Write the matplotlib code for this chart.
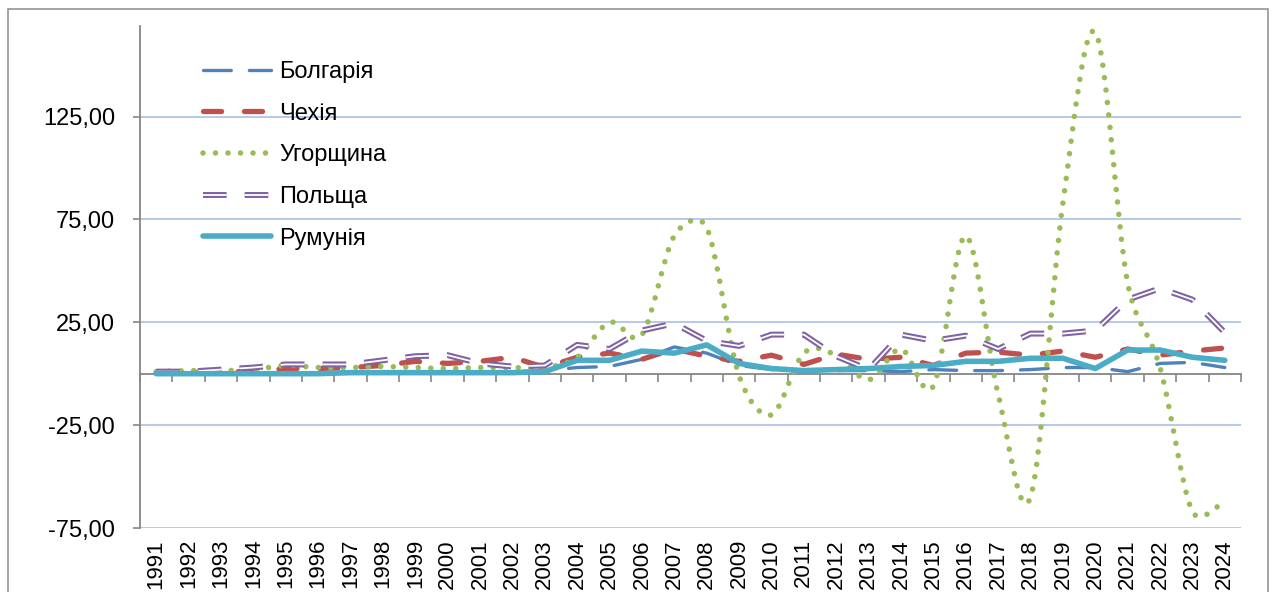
import numpy as np
import matplotlib.pyplot as plt
from matplotlib.path import Path
from matplotlib.patches import PathPatch, Rectangle
from matplotlib.lines import Line2D

plt.rcParams['font.family'] = ['Liberation Sans', 'DejaVu Sans']
plt.rcParams['lines.scale_dashes'] = False

years = [str(y) for y in range(1991, 2025)]

bulgaria = [0.5, 0.5, 0.5, 0.5, 0.5, 0.5, 1.0, 1.0, 1.0, 1.0, 1.0, 1.0, 1.5, 3.0,
            3.5, 7.0, 13.0, 10.0, 4.0, 2.0, 1.5, 1.5, 1.5, 1.0, 2.0, 1.5, 1.5, 2.0,
            3.0, 3.0, 1.0, 5.0, 5.5, 3.0]
czech = [0.5, 0.5, 1.0, 1.0, 2.5, 2.5, 3.0, 4.0, 6.0, 5.0, 6.0, 8.0, 3.0, 8.0,
         10.0, 7.0, 12.0, 8.5, 6.0, 9.0, 4.5, 9.5, 7.0, 8.0, 4.0, 10.0, 10.5, 9.0,
         11.0, 8.0, 12.0, 9.0, 11.0, 12.5]
hungary = [1.0, 1.5, 1.5, 2.0, 4.0, 3.0, 3.0, 3.5, 3.0, 2.5, 3.0, 3.0, 3.0, 8.0,
           25.0, 19.0, 67.0, 71.0, -1.0, -20.0, 10.0, 9.0, -3.0, 12.0, -6.0, 67.0,
           -10.0, -60.0, 83.0, 166.0, 44.0, 3.0, -67.0, -62.0]
poland = [1.0, 1.0, 2.0, 3.0, 4.5, 4.5, 4.5, 6.5, 8.5, 9.0, 5.0, 3.5, 4.0, 14.0,
          12.0, 21.0, 24.5, 16.0, 13.5, 19.0, 19.0, 8.5, 2.0, 19.0, 16.0, 18.5,
          12.0, 19.5, 19.5, 21.0, 36.0, 41.5, 36.0, 20.0]
romania = [0.0, 0.0, 0.0, 0.0, 0.0, 0.0, 0.5, 0.5, 0.5, 0.5, 0.5, 0.5, 1.0, 6.5,
           6.5, 11.0, 10.0, 14.0, 5.0, 2.5, 1.5, 2.0, 2.5, 3.5, 4.0, 6.0, 6.0, 7.5,
           7.5, 2.5, 11.5, 11.5, 8.0, 6.5]

XLIM = (-0.5, len(years) - 0.5)
YLIM = (-75, 169)


def smooth_path(xs, ys, sx, sy):
    # Excel-like smoothing: Catmull-Rom handles (1/6 of neighbour span),
    # clamped to half of the segment chord, measured on screen
    pts = np.column_stack([np.asarray(xs) * sx, np.asarray(ys) * sy]).astype(float)
    ext = np.vstack([pts[0], pts, pts[-1]])
    n = len(pts)
    verts = [pts[0]]
    codes = [Path.MOVETO]
    for i in range(n - 1):
        p0, p1, p2, p3 = ext[i], ext[i + 1], ext[i + 2], ext[i + 3]
        half = np.hypot(*(p2 - p1)) / 2
        h1 = (p2 - p0) / 6
        h2 = (p3 - p1) / 6
        l1, l2 = np.hypot(*h1), np.hypot(*h2)
        if l1 > half:
            h1 = h1 * half / l1
        if l2 > half:
            h2 = h2 * half / l2
        verts += [p1 + h1, p2 - h2, p2]
        codes += [Path.CURVE4] * 3
    verts = np.array(verts) / [sx, sy]
    return Path(verts, codes)


fig = plt.figure(figsize=(12.74, 5.92), dpi=100)
ax = fig.add_axes([140 / 1274, 1 - 528 / 592, (1241 - 140) / 1274, (528 - 26) / 592])

x = np.arange(len(years))
gray = '#868686'

bul_style = dict(color='#4F81BD', lw=2.4, ls=(0, (20, 13)), dash_capstyle='round')
cz_style = dict(color='#C0504D', lw=3.8, ls=(0, (13, 16.5)), dash_capstyle='round')
hu_style = dict(color='#9BBB59', lw=4.0, ls=(0, (0.001, 9)), dash_capstyle='round')
pl_style = dict(color='#8064A2', lw=4.3, ls=(0, (17, 13)), dash_capstyle='butt')
pl_inner = dict(color='white', lw=1.3, ls=(0, (17, 13)), dash_capstyle='butt')
ro_style = dict(color='#4BACC6', lw=4.0, solid_capstyle='round', solid_joinstyle='round')

# pixels per data unit, for the smoothing geometry
sx = 1101 / (XLIM[1] - XLIM[0])
sy = 502 / (YLIM[1] - YLIM[0])

ax.plot(x, bulgaria, zorder=3, **bul_style)
ax.plot(x, czech, zorder=3, **cz_style)
hu_patch = PathPatch(smooth_path(x, hungary, sx, sy), fill=False, edgecolor=hu_style['color'],
                     lw=hu_style['lw'], ls=hu_style['ls'], capstyle='round', zorder=3)
ax.add_patch(hu_patch)
ax.plot(x, poland, zorder=3, **pl_style)
ax.plot(x, poland, zorder=3, **pl_inner)
ax.plot(x, romania, zorder=4, **ro_style)

ax.set_xlim(*XLIM)
ax.set_ylim(*YLIM)

yticks = [-75, -25, 25, 75, 125]
ax.set_yticks(yticks, labels=[f"{v:.2f}".replace('.', ',') for v in yticks])
ax.yaxis.grid(True, color='#A3BBE5', lw=1.1)
ax.set_axisbelow(True)
ax.tick_params(axis='y', length=5, color=gray, width=1.2, pad=13, labelsize=17)

for s in ['top', 'right']:
    ax.spines[s].set_visible(False)
ax.spines['left'].set_color(gray)
ax.spines['left'].set_linewidth(1.3)
ax.spines['bottom'].set_position(('data', 0))
ax.spines['bottom'].set_color(gray)
ax.spines['bottom'].set_linewidth(1.3)
ax.set_xticks(np.arange(-0.5, len(years), 1))
ax.tick_params(axis='x', length=6, color=gray, width=1.2, labelbottom=False)

sec = ax.secondary_xaxis('bottom')
sec.set_xticks(x, labels=years, rotation=90)
sec.tick_params(length=0, pad=8, labelsize=16)
sec.spines['bottom'].set_visible(False)

handles = [
    Line2D([], [], **bul_style),
    Line2D([], [], **cz_style),
    Line2D([], [], **hu_style),
    (Line2D([], [], **pl_style), Line2D([], [], **pl_inner)),
    Line2D([], [], **ro_style),
]
labels = ['Болгарія', 'Чехія', 'Угорщина', 'Польща', 'Румунія']
ax.legend(handles, labels, loc='upper left', bbox_to_anchor=(0.057, 0.930),
          frameon=False, fontsize=17, handlelength=2.9, handletextpad=0.33,
          labelspacing=0.83, borderpad=0, borderaxespad=0)

fig.patches.append(Rectangle((8 / 1274, -0.1), 1260 / 1274, 1.1 - 9 / 592,
                             transform=fig.transFigure, fill=False,
                             edgecolor='#8C8C8C', lw=1.1))

fig.savefig('out.png', dpi=100)
